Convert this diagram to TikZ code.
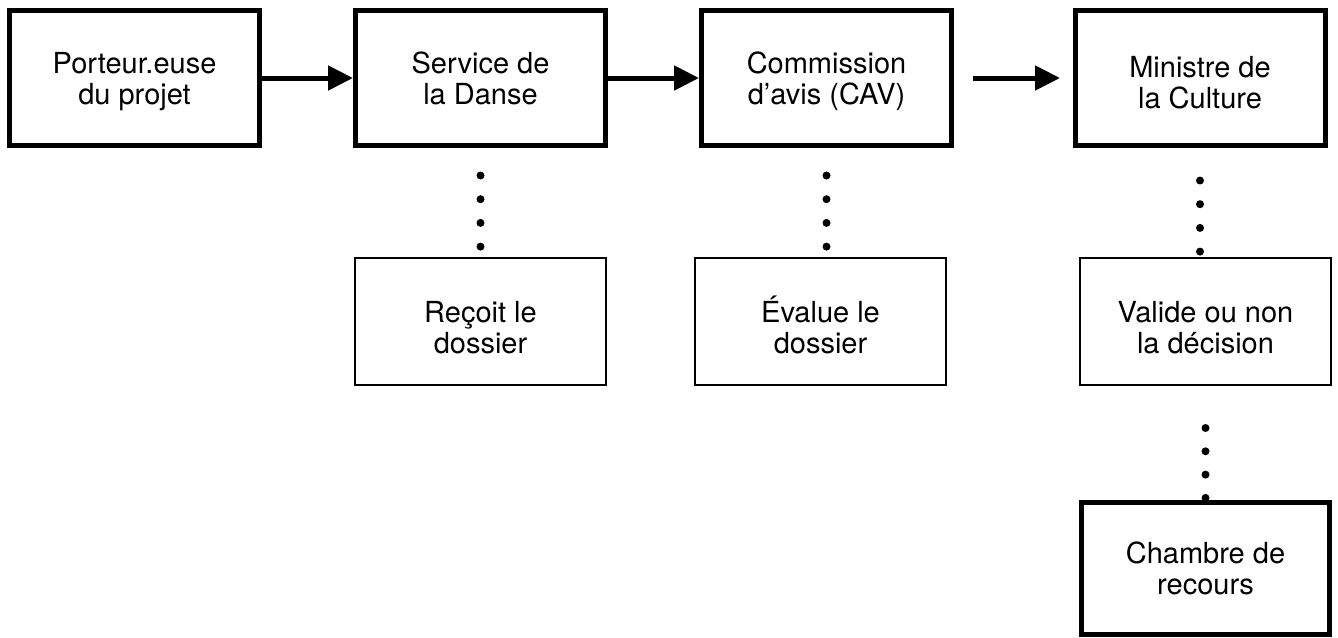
\documentclass[tikz,border=0pt]{standalone}
\usepackage{fontspec}
\setmainfont{TeX Gyre Heros}
\usetikzlibrary{arrows.meta}
% two lines of text, first line raised by a strut of height #1
\newcommand{\twol}[3]{\rule{0pt}{#1}#2\\#3\rule[-3.5pt]{0pt}{3.5pt}}
\begin{document}
\begin{tikzpicture}[x=0.5pt, y=-0.5pt]
		\tikzset{bx/.style={draw=black, line width=2.5pt, minimum width=125pt, minimum height=67.5pt, inner sep=0pt, align=center, font=\fontsize{14.5}{15.5}\selectfont}};
		\tikzset{sub/.style={bx, line width=1pt, minimum width=125.5pt, minimum height=63.5pt}};
		\tikzset{arr/.style={line width=2.5pt, -{Triangle[length=12.5pt, width=12pt]}}};
		\tikzset{pts/.style={line width=4pt, line cap=round, dash pattern=on 0pt off 11.85pt}};

		\useasboundingbox (0,0) rectangle (1338,637);

		\node[bx] (p) at (134.5, 78) {\twol{14pt}{Porteur.euse}{du projet}};
		\node[bx] (s) at (480.5, 78) {\twol{14pt}{Service de}{la Danse}};
		\node[bx] (c) at (826.5, 78) {\twol{14.5pt}{Commission}{d’avis (CAV)}};
		\node[bx] (m) at (1200, 78) {\twol{18pt}{Ministre de}{la Culture}};

		\node[sub] (rs) at (480.5, 321.5) {\twol{19.5pt}{Reçoit le}{dossier}};
		\node[sub] (rc) at (820.5, 321.5) {\twol{19.5pt}{\smash{É}value le}{dossier}};
		\node[sub] (v) at (1205.5, 321.5) {\twol{19.5pt}{Valide ou non}{la décision}};
		\node[bx, minimum width=124pt, minimum height=66pt] (r) at (1205.5, 568.5) {\twol{13.5pt}{Chambre de}{recours}};

		\draw[arr] (p) -- (s);
		\draw[arr] (s) -- (c);
		\draw[arr, shorten <=9.25pt, shorten >=6.25pt] (c) -- (m);

		\draw[pts, dash phase=8.1pt, shorten <=10pt, shorten >=4pt] (s.south) -- (s.south |- rs.north);
		\draw[pts, dash phase=8.1pt, shorten <=10pt, shorten >=4pt] (c.south) -- (c.south |- rc.north);
		\draw[pts, dash phase=5.6pt, shorten <=10pt, shorten >=2.5pt] (m.south) -- (m.south |- v.north);
		\draw[pts, dash pattern=on 0pt off 11.65pt, dash phase=5.65pt, shorten <=15pt] (v.south) -- (r.north);
	\end{tikzpicture}
\end{document}
